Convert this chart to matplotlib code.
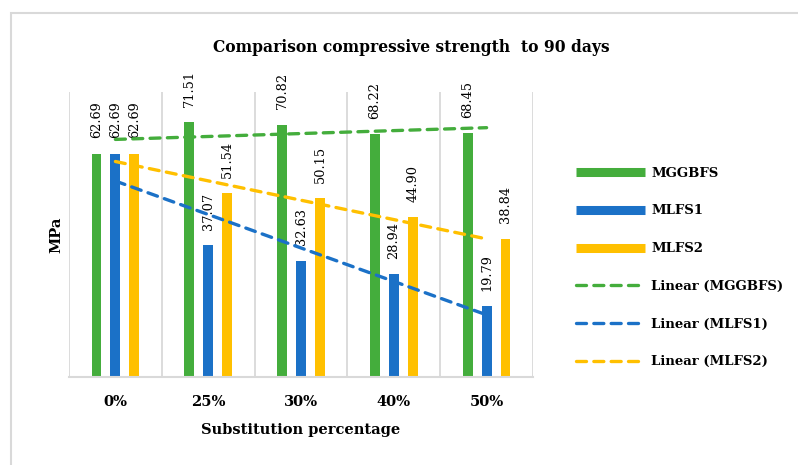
import matplotlib.pyplot as plt
import numpy as np
from matplotlib.lines import Line2D
from matplotlib.patches import Rectangle

categories = ["0%", "25%", "30%", "40%", "50%"]
mggbfs = [62.69, 71.51, 70.82, 68.22, 68.45]
mlfs1 = [62.69, 37.07, 32.63, 28.94, 19.79]
mlfs2 = [62.69, 51.54, 50.15, 44.90, 38.84]
series_names = ["MGGBFS", "MLFS1", "MLFS2"]

colors = ["#44ad3c", "#1b71c7", "#ffc000"]
serif = "DejaVu Serif"

fig = plt.figure(figsize=[7.98, 4.65], dpi=100)
ax = fig.add_axes([69/798, 1 - 377/465, 464/798, 285/465])

# light outer frame around the whole chart
fig.patches.append(Rectangle((11/798, -0.1), 1.2, 1 - 13/465 + 0.1, transform=fig.transFigure,
                             fill=False, edgecolor="#d9d9d9", linewidth=1.5))

x = np.arange(len(categories))
width = 0.107
offset = 0.204

for i, (vals, color) in enumerate(zip([mggbfs, mlfs1, mlfs2], colors)):
    xs = x + (i - 1) * offset
    ax.bar(xs, vals, width=width, color=color, zorder=2)
    for xi, v in zip(xs, vals):
        ax.annotate("%.2f" % v, xy=(xi, v), xytext=(0, 11), textcoords="offset points",
                    rotation=90, ha="center", va="bottom", fontsize=9.3, family=serif)

# linear trendlines, fitted the same way a spreadsheet does (x = 1..n)
xi = np.arange(1, len(categories) + 1)
for vals, color in zip([mggbfs, mlfs1, mlfs2], colors):
    k, b = np.polyfit(xi, vals, 1)
    ax.plot(x, k * xi + b, color=color, lw=2.4, dashes=(3, 2.2), dash_capstyle="round", zorder=3)

ax.set_xlim(-0.5, len(categories) - 0.5)
ax.set_ylim(0, 80)
ax.set_yticks([])
ax.set_xticks(x)
ax.set_xticklabels(categories, fontsize=10.5, fontweight="bold", family=serif)
ax.tick_params(axis="x", length=0, pad=13)
for xb in np.arange(-0.5, len(categories), 1):
    ax.axvline(xb, color="#d9d9d9", lw=1.3, zorder=1)
for s in ["top", "right", "left"]:
    ax.spines[s].set_visible(False)
ax.spines["bottom"].set_color("#d9d9d9")
ax.spines["bottom"].set_linewidth(1.5)

ax.set_xlabel("Substitution percentage", fontsize=10.5, fontweight="bold", family=serif, labelpad=10)
ax.set_ylabel("MPa", fontsize=10.5, fontweight="bold", family=serif, labelpad=4)
fig.text(411/798, 1 - 47/465, "Comparison compressive strength  to 90 days", ha="center", va="center",
         fontsize=11.2, fontweight="bold", family=serif)

handles = [Line2D([], [], color=c, lw=6.5, solid_capstyle="butt") for c in colors]
handles += [Line2D([], [], color=c, lw=2.4, dashes=(3, 2.2), dash_capstyle="round") for c in colors]
labels = series_names + ["Linear (%s)" % n for n in series_names]
fig.legend(handles, labels, loc="center left", bbox_to_anchor=(576/798, 1 - 267.5/465),
           frameon=False, borderpad=0, borderaxespad=0, handlelength=5.2, handletextpad=0.5,
           labelspacing=1.87, prop={"family": serif, "weight": "bold", "size": 9.5})

fig.savefig("out.png", dpi=100)
